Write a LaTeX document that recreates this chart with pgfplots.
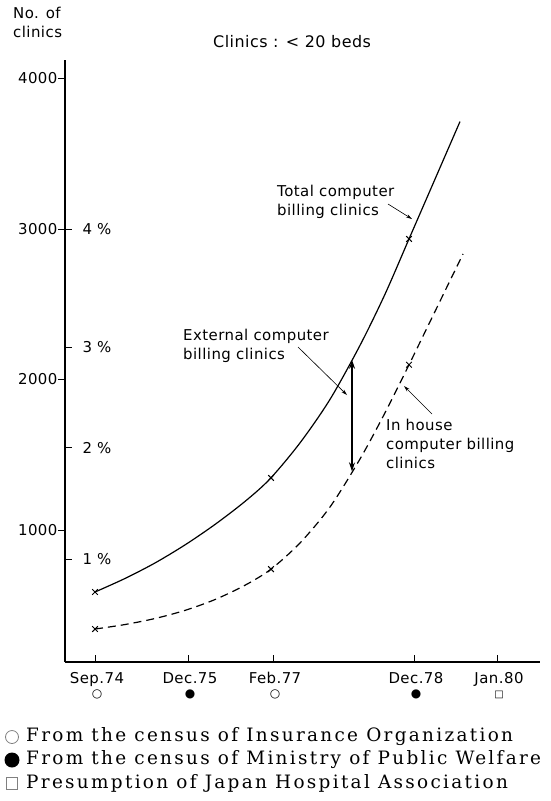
\documentclass[border=0pt]{standalone}
\usepackage{fontspec}
\setmainfont{DejaVu Sans}
\newfontfamily\legfont[LetterSpace=12.5]{DejaVu Serif}
\newfontfamily\labfont[LetterSpace=3]{DejaVu Sans}
\usepackage{pgfplots}
\pgfplotsset{compat=1.18}
\usetikzlibrary{arrows.meta}
\newcommand\lf{\labfont\fontsize{15}{19}\selectfont}
\newcommand\sym[1]{{\fontsize{12}{12}\selectfont #1}}
\begin{document}
\begin{tikzpicture}[x=1bp,y=1bp]
\path[use as bounding box] (0,0) rectangle (551,-801);
\begin{axis}[
  at={(65bp,-662bp)}, anchor=south west,
  scale only axis, width=475bp, height=602bp,
  xmin=65, xmax=540, ymin=122.9, ymax=4123,
  axis x line*=bottom, axis y line*=left,
  axis line style={-, line width=1.3bp},
  xtick={95,188,273,414,497},
  xticklabels={{Sep.74\\[-5bp]\sym{○}},{Dec.75\\[-5bp]\sym{●}},{Feb.77\\[-5bp]\sym{○}},{Dec.78\\[-5bp]\sym{●}},{Jan.80\\[-5bp]{\fontsize{10}{10}\selectfont □}}},
  x tick label style={align=center, font=\lf, xshift=2bp, yshift=-7bp},
  xtick align=inside, ytick align=outside,
  major tick length=7bp,
  tick style={line width=1bp, black},
  ytick={1000,2000,3000,4000},
  yticklabels={1000,2000,3000,4000},
  y tick label style={font=\lf, xshift=3bp},
  extra y ticks={807,1545,2216,3000},
  extra y tick labels={1 \%,2 \%,3 \%,4 \%},
  extra y tick style={ytick align=inside, yticklabel style={anchor=west, xshift=11bp}},
  clip=false,
]
% Total computer billing clinics
\addplot[black, line width=1.2bp, smooth] coordinates {
 (95,588) (125,678) (155,781) (185,901) (215,1037) (245,1190) (270,1340)
 (300,1579) (330,1868) (360,2227) (385,2567) (409,2934) (430,3255) (450,3561) (460,3714)};
% In house computer billing clinics
\addplot[black, line width=1.2bp, smooth, dash pattern=on 8bp off 5bp] coordinates {
 (95,342) (125,372) (155,412) (185,466) (215,538) (245,633) (271,740)
 (300,914) (330,1153) (360,1472) (385,1779) (409,2098) (430,2384) (450,2657) (463,2834)};
\addplot[black, only marks, mark=x, mark size=4bp, mark options={line width=1bp}] coordinates {
 (95,588) (271,1346) (409,2934)};
\addplot[black, only marks, mark=x, mark size=4bp, mark options={line width=1bp}] coordinates {
 (95,342) (271,740) (409,2098)};
% annotations
\draw[{Stealth[length=9bp,width=6bp]}-{Stealth[length=9bp,width=6bp]}, line width=1.3bp] (axis cs:352,2131) -- (axis cs:352,1390);
\draw[-{Stealth[length=6bp,width=3.5bp]}, line width=0.6bp] (axis cs:388,{(680.5-204)/0.1505}) -- (axis cs:412,{(680.5-219)/0.1505});
\draw[-{Stealth[length=6bp,width=3.5bp]}, line width=0.6bp] (axis cs:298,{(680.5-347)/0.1505}) -- (axis cs:347,{(680.5-395)/0.1505});
\draw[-{Stealth[length=6bp,width=3.5bp]}, line width=0.6bp] (axis cs:432,{(680.5-414)/0.1505}) -- (axis cs:404,{(680.5-386)/0.1505});
\node[anchor=north west, inner sep=0, align=left, font=\lf] at (axis cs:277,{(680.5-185)/0.1505}) {Total computer\\billing clinics};
\node[anchor=north west, inner sep=0, align=left, font=\lf] at (axis cs:183,{(680.5-329)/0.1505}) {External computer\\billing clinics};
\node[anchor=north west, inner sep=0, align=left, font=\lf] at (axis cs:386,{(680.5-419)/0.1505}) {In house\\computer billing\\clinics};
\end{axis}
\node[anchor=north west, inner sep=0, align=left, font=\lf] at (13,-7) {No. of\\clinics};
\node[anchor=west, inner sep=0, font={\labfont\fontsize{16}{19}\selectfont}] at (213,-42) {Clinics : < 20 beds};
% legend
\draw[gray, line width=0.8bp] (12,-737) circle (6.5);
\fill (12,-760) circle (7.5);
\draw[gray, line width=0.8bp] (6,-777) rectangle (17,-789);
\node[anchor=west, inner sep=0, font={\legfont\fontsize{18.5}{22}\selectfont}] at (26,-737) {From the census of Insurance Organization};
\node[anchor=west, inner sep=0, font={\legfont\fontsize{18.5}{22}\selectfont}] at (26,-760) {From the census of Ministry of Public Welfare};
\node[anchor=west, inner sep=0, font={\legfont\fontsize{18.5}{22}\selectfont}] at (26,-783) {Presumption of Japan Hospital Association};
\end{tikzpicture}
\end{document}
